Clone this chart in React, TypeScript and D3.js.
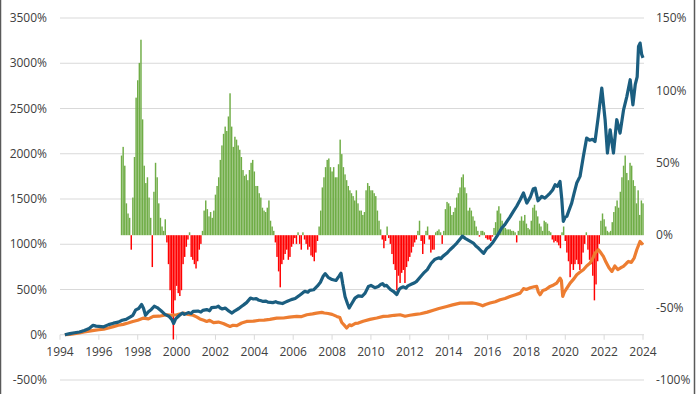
import * as d3 from 'd3';

// left axis ticks (cumulative return, %)
const leftTicks = [-500, 0, 500, 1000, 1500, 2000, 2500, 3000, 3500];
// right axis ticks (rolling relative return, %)
const rightTicks = [-100, -50, 0, 50, 100, 150];
const yearTicks = [1994, 1996, 1998, 2000, 2002, 2004, 2006, 2008, 2010, 2012, 2014, 2016, 2018, 2020, 2022, 2024];

// monthly bars starting March 1997 (right axis)
const barStart = 1997 + 2 / 12;
const barValues = [
  55, 61, 48, 22, 15, 12, -10, 26, 54, 95, 107, 119, 135, 80, 48, 36, 40, 26, 12, -22,
  30, 50, 40, 22, 12, 6, 3, 11, -5, -20, -38, -54, -72, -45, -35, -40, -42, -38,
  -20, -15, -8, -3, 2, -15, -17, -20, -23, -18, -10, -6, 3, 17, 24, 18, 13, 16, 12, 17,
  28, 34, 40, 52, 62, 70, 75, 72, 82, 98, 75, 61, 68, 66, 62, 59, 54, 45, 41, 42, 38, 45,
  50, 52, 44, 34, 34, 29, 26, 19, 17, 16, 19, 24, 10, 6, 3, -5, -15, -25, -36, -20, -17,
  -13, -10, -17, -15, -8, -6, -2, -6, 2, -6, -10, 2, -3, -6, -10,
  -8, -14, -15, -18, -12, -4,
  6, 17, 33, 40, 47, 52, 53, 47, 44, 47, 40, 40, 49, 66, 56, 47, 42, 38, 34, 31, 29, 27,
  24, 31, 22, 17, 17, 14, 16, 31, 36, 34, 31, 31, 29, 27, 17, 10, 4, -3, -9, -4, 6, -2,
  -6, -13, -20, -24, -38, -28, -33, -26, -24, -33, -22, -18, -15, -12, -8, -5, -3, 3, 10,
  -4, -13, -6, 3, 6, -3, -12, -10,
  -10, 2, 3, 4, 2, -6, 3, 18, 23, 22, 20, 14, 16, 19, 26, 29, 33, 40, 42, 33, 29, 17, 19,
  17, 13, 10, 6, 3, -1, 3, 3, 2, -2, -3, -3, -4, -1, 5, 9, 17, 20, 15, 10, 7, 5, 4, 4, 4,
  3, 3, 2, -5, 3, 10, 13, 10, 14, 8, 5, 4, 10, 19, 21, 17, 13, 8, 6, 3, 10, 9, 8, 3, 2, -3, -5,
  -4, -5, -7, -9, 2, 6, -4, -12, -18, -29, -20, -24, -20, -17, -20, -24, -20, -12, -6, 2,
  -10, -17, -20, -28, -45, -34, -18, -6, 10, 15, 11, 6, 3, 2, 3, 9, 16, 20, 24, 19, 30, 40,
  48, 55, 43, 38, 50, 48, 38, 34, 22, 31, 14, 24, 22,
];

// [year, cumulative %] (left axis)
const blueSeries: [number, number][] = [
  [1994.25, 0], [1994.5, 12], [1994.75, 22], [1995.0, 30], [1995.25, 48], [1995.5, 70], [1995.7, 105],
  [1995.85, 95], [1996.0, 92], [1996.25, 88], [1996.5, 112], [1996.75, 128], [1997.0, 140], [1997.2, 160],
  [1997.4, 170], [1997.6, 195], [1997.75, 215], [1997.9, 275], [1998.05, 290], [1998.2, 335], [1998.3, 290],
  [1998.4, 215], [1998.55, 255], [1998.7, 280], [1998.85, 315], [1999.0, 300], [1999.2, 265], [1999.4, 225],
  [1999.6, 205], [1999.75, 170], [1999.85, 125], [1999.95, 175], [2000.15, 215], [2000.3, 240], [2000.4, 225],
  [2000.6, 245], [2000.75, 235], [2000.85, 258], [2001.1, 262], [2001.25, 250], [2001.35, 270], [2001.55, 278],
  [2001.7, 265], [2001.8, 300], [2002.05, 305], [2002.15, 315], [2002.25, 295], [2002.35, 285], [2002.5, 295],
  [2002.7, 260], [2002.85, 240], [2003.0, 265], [2003.2, 290], [2003.35, 315], [2003.45, 330], [2003.6, 355],
  [2003.8, 405], [2003.95, 395], [2004.1, 400], [2004.2, 385], [2004.35, 375], [2004.45, 368], [2004.6, 372],
  [2004.7, 360], [2004.95, 355], [2005.1, 365], [2005.2, 355], [2005.45, 345], [2005.6, 360], [2005.7, 370],
  [2005.9, 388], [2006.1, 400], [2006.35, 440], [2006.5, 465], [2006.6, 480], [2006.75, 470], [2006.85, 490],
  [2007.05, 497], [2007.25, 540], [2007.4, 580], [2007.55, 650], [2007.65, 675], [2007.8, 635],
  [2008.0, 610], [2008.2, 600], [2008.35, 645], [2008.46, 680], [2008.55, 560], [2008.67, 420], [2008.8, 340],
  [2008.88, 295], [2009.0, 340], [2009.18, 405], [2009.35, 430], [2009.55, 425], [2009.7, 460], [2009.87, 534],
  [2010.0, 545], [2010.2, 520], [2010.38, 534], [2010.5, 555], [2010.6, 565], [2010.7, 540], [2010.8, 545],
  [2011.0, 500], [2011.15, 480], [2011.33, 445], [2011.45, 500], [2011.55, 520], [2011.67, 530], [2011.8, 515],
  [2011.9, 540], [2012.1, 560], [2012.25, 575], [2012.35, 590], [2012.55, 640], [2012.75, 690], [2012.9, 720],
  [2013.1, 790], [2013.3, 835], [2013.5, 850], [2013.6, 840], [2013.7, 866], [2013.9, 900],
  [2014.07, 939], [2014.25, 975], [2014.42, 1013], [2014.6, 1060], [2014.7, 1090], [2014.85, 1065],
  [2015.05, 1040], [2015.27, 1013], [2015.4, 980], [2015.53, 958], [2015.7, 920], [2015.8, 900], [2015.95, 950],
  [2016.1, 975], [2016.25, 1013], [2016.48, 1086], [2016.6, 1130], [2016.73, 1179], [2016.9, 1220],
  [2017.0, 1252], [2017.15, 1300], [2017.33, 1363], [2017.5, 1420], [2017.68, 1492], [2017.85, 1566],
  [2018.02, 1455], [2018.2, 1520], [2018.35, 1610], [2018.45, 1621], [2018.6, 1480], [2018.79, 1529],
  [2018.95, 1510], [2019.1, 1540], [2019.22, 1566], [2019.35, 1600], [2019.48, 1658], [2019.6, 1640],
  [2019.73, 1695], [2019.82, 1500], [2019.9, 1252], [2020.0, 1300], [2020.08, 1308], [2020.2, 1380],
  [2020.33, 1455], [2020.45, 1560], [2020.59, 1676], [2020.76, 1750], [2020.93, 1970], [2021.1, 2173],
  [2021.25, 2150], [2021.4, 2160], [2021.53, 2136], [2021.7, 2412], [2021.88, 2726], [2022.05, 2376],
  [2022.17, 2008], [2022.31, 2265], [2022.48, 2008], [2022.65, 2376], [2022.82, 2228], [2023.0, 2486],
  [2023.17, 2634], [2023.34, 2818], [2023.48, 2541], [2023.6, 2763], [2023.7, 2850], [2023.77, 3186],
  [2023.85, 3223], [2023.93, 3100], [2024.0, 3060],
];

const orangeSeries: [number, number][] = [
  [1994.25, 0], [1994.5, 5], [1994.75, 12], [1995.0, 20], [1995.25, 30], [1995.5, 40], [1995.75, 48],
  [1996.0, 55], [1996.25, 62], [1996.5, 75], [1996.75, 90], [1997.0, 105], [1997.25, 115], [1997.5, 130],
  [1997.75, 147], [1998.0, 160], [1998.3, 184], [1998.55, 175], [1998.8, 203], [1999.1, 205], [1999.5, 221],
  [1999.75, 215], [2000.0, 221], [2000.2, 230], [2000.35, 239], [2000.6, 225], [2000.85, 215], [2001.05, 195],
  [2001.2, 175], [2001.4, 160], [2001.55, 147], [2001.7, 160], [2001.9, 135], [2002.15, 140], [2002.4, 125],
  [2002.6, 105], [2002.75, 92], [2002.9, 105], [2003.1, 100], [2003.35, 130], [2003.6, 147], [2003.95, 150],
  [2004.25, 160], [2004.5, 162], [2004.8, 170], [2005.15, 184], [2005.5, 185], [2005.8, 195], [2006.18, 203],
  [2006.4, 200], [2006.7, 221], [2007.0, 230], [2007.2, 239], [2007.47, 247], [2007.6, 240], [2007.8, 235],
  [2008.0, 225], [2008.24, 203], [2008.4, 190], [2008.5, 135], [2008.65, 100], [2008.75, 74], [2008.9, 110],
  [2009.0, 100], [2009.2, 125], [2009.35, 129], [2009.6, 150], [2009.95, 170], [2010.3, 185], [2010.64, 203],
  [2010.9, 205], [2011.2, 215], [2011.5, 221], [2011.76, 205], [2012.0, 215], [2012.3, 225], [2012.55, 232],
  [2012.9, 250], [2013.21, 270], [2013.5, 290], [2013.9, 313], [2014.2, 330], [2014.59, 350], [2014.9, 350],
  [2015.2, 352], [2015.4, 345], [2015.62, 331], [2015.75, 320], [2015.9, 335], [2016.13, 350], [2016.4, 365],
  [2016.65, 387], [2016.9, 400], [2017.16, 423], [2017.4, 440], [2017.68, 460], [2017.85, 510], [2018.0, 500],
  [2018.2, 520], [2018.4, 530], [2018.53, 534], [2018.62, 470], [2018.7, 442], [2018.85, 490], [2019.0, 500],
  [2019.22, 534], [2019.4, 550], [2019.56, 571], [2019.73, 626], [2019.8, 600], [2019.87, 423], [2019.95, 470],
  [2020.1, 520], [2020.25, 571], [2020.45, 620], [2020.59, 663], [2020.75, 690], [2020.93, 718], [2021.1, 760],
  [2021.28, 792], [2021.45, 860], [2021.53, 902], [2021.71, 939], [2021.85, 900], [2021.96, 866], [2022.1, 800],
  [2022.25, 740], [2022.4, 700], [2022.55, 760], [2022.7, 720], [2022.85, 740], [2022.99, 755], [2023.15, 790],
  [2023.25, 810], [2023.4, 800], [2023.55, 850], [2023.68, 939], [2023.85, 1031], [2024.0, 994],
];

const width = 700;
const height = 394;
const font = '"Open Sans", "Noto Sans", sans-serif';

export default function App() {
  const x = d3.scaleLinear().domain([1994, 2024]).range([60, 643]);
  const yLeft = d3.scaleLinear().domain([-500, 3500]).range([380, 18]);
  const yRight = d3.scaleLinear().domain([-100, 150]).range([380, 18]);

  const monthW = x(1994 + 1 / 12) - x(1994);
  const bars = barValues.map((v, i) => ({ t: barStart + i / 12, v }));

  const line = d3.line<[number, number]>()
    .x(d => x(d[0]))
    .y(d => yLeft(d[1]));

  return (
    <svg width={width} height={height} style={{ position: 'absolute', left: 0, top: 0, background: '#fff' }}>
      {/* gridlines */}
      {leftTicks.map(t => (
        <line key={t} x1={60} x2={644} y1={yLeft(t)} y2={yLeft(t)}
          stroke="#d9d9d9" strokeWidth={1} />
      ))}
      {/* x axis ticks */}
      {yearTicks.map(yr => (
        <line key={yr} x1={x(yr)} x2={x(yr)} y1={yLeft(0)} y2={yLeft(0) + 5}
          stroke="#d9d9d9" strokeWidth={1} />
      ))}

      {/* bars */}
      <g>
        {bars.map((b, i) => {
          const y0 = yRight(0);
          const y1 = yRight(b.v);
          return (
            <rect key={i} x={x(b.t) - monthW * 0.45} width={monthW * 0.9}
              y={Math.min(y0, y1)} height={Math.abs(y1 - y0)}
              fill={b.v >= 0 ? '#70ad47' : '#ff0000'} />
          );
        })}
      </g>

      <path d={line(orangeSeries) ?? ''} fill="none" stroke="#ed7d31" strokeWidth={3.2} strokeLinejoin="round" />
      <path d={line(blueSeries) ?? ''} fill="none" stroke="#1b5e80" strokeWidth={3.2} strokeLinejoin="round" />

      {/* left axis labels */}
      {leftTicks.map(t => (
        <text key={t} x={47} y={yLeft(t)} dy="0.35em" textAnchor="end"
          fontFamily={font} fontSize={12} fill="#404040">{t}%</text>
      ))}
      {/* right axis labels */}
      {rightTicks.map(t => (
        <text key={t} x={656} y={yRight(t)} dy="0.35em" textAnchor="start"
          fontFamily={font} fontSize={12} fill="#404040">{t}%</text>
      ))}
      {/* x labels */}
      {yearTicks.map(yr => (
        <text key={yr} x={x(yr)} y={352} dy="0.35em" textAnchor="middle"
          fontFamily={font} fontSize={12} fill="#404040">{yr}</text>
      ))}

      {/* frame */}
      <line x1={0.5} x2={0.5} y1={0} y2={height} stroke="#595959" strokeWidth={1.5} />
      <line x1={694.5} x2={694.5} y1={0} y2={height} stroke="#595959" strokeWidth={1.5} />
    </svg>
  );
}
